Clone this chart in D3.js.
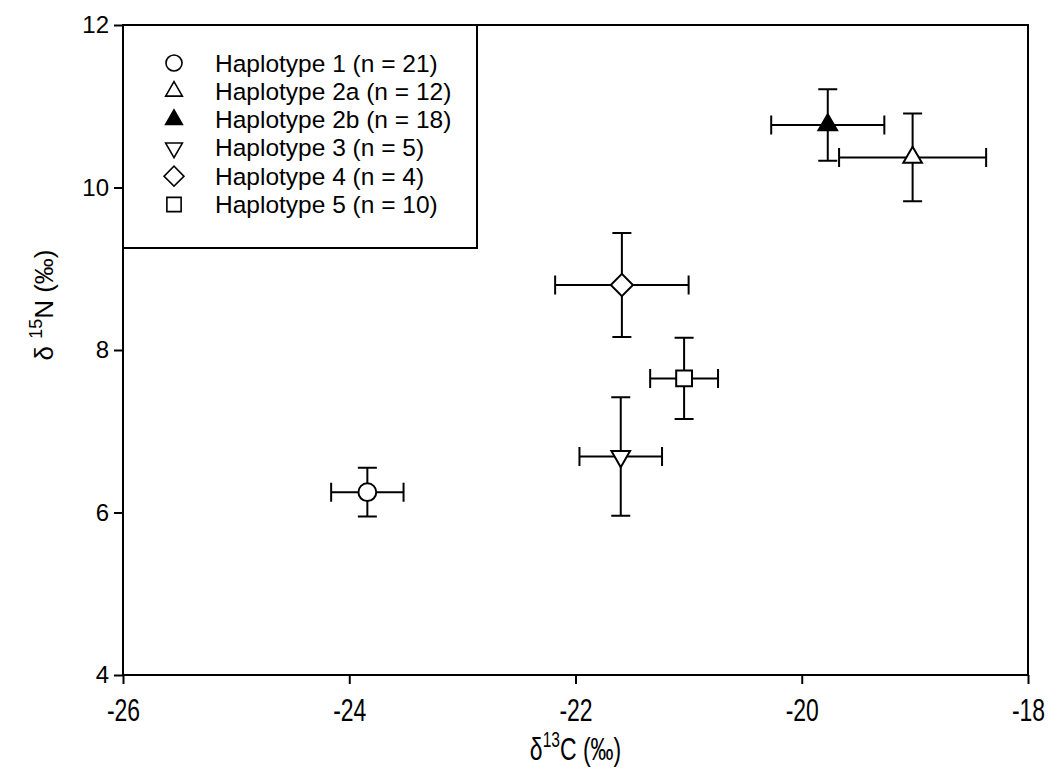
<!DOCTYPE html>
<html lang="en">
<head>
    <meta charset="UTF-8">
    <title>Haplotype isotopes</title>
    <script src="https://d3js.org/d3.v7.min.js"></script>
    <style>
        body { margin: 0; background: #fff; }
        text { font-family: "Liberation Sans", Arial, sans-serif; fill: #000; }
    </style>
</head>
<body>

<svg width="1050" height="780"></svg>

<script>

    // values
    var groups = ["Haplotype 1 (n = 21)", "Haplotype 2a (n = 12)", "Haplotype 2b (n = 18)",
                  "Haplotype 3 (n = 5)", "Haplotype 4 (n = 4)", "Haplotype 5 (n = 10)"];
    var carbon = [-23.84, -19.02, -19.77, -21.60, -21.59, -21.04];
    var carbonErr = [0.32, 0.65, 0.50, 0.365, 0.59, 0.30];
    var nitrogen = [6.25, 10.37, 10.77, 6.69, 8.80, 7.65];
    var nitrogenErr = [0.30, 0.54, 0.44, 0.73, 0.64, 0.50];
    var markers = ["circle", "up", "up", "down", "diamond", "square"];
    var filled = [false, false, true, false, false, false];
    var xTicks = [-26, -24, -22, -20, -18];
    var yTicks = [4, 6, 8, 10, 12];

    var svg = d3.select("svg");
    var mLeft = 123, mRight = 1028, mTop = 25, mBottom = 675;

    var x = d3.scaleLinear().domain([-26, -18]).range([mLeft, mRight]);
    var y = d3.scaleLinear().domain([4, 12]).range([mBottom, mTop]);

    var rows = groups.map(function (g, i) {
        return {name: g, cx: carbon[i], cxe: carbonErr[i], ny: nitrogen[i], nye: nitrogenErr[i],
                marker: markers[i], fill: filled[i]};
    });

    // axes
    var xAxis = svg.append("g")
        .attr("transform", "translate(0," + mBottom + ")")
        .call(d3.axisBottom(x).tickValues(xTicks).tickSize(9).tickSizeOuter(0)
            .tickFormat(function (d) { return String(d); }));
    // condensed look of the reference tick labels
    xAxis.selectAll("text")
        .attr("y", 0).attr("dy", 0)
        .attr("transform", "translate(0,46) scale(0.82,1.12)")
        .style("font-size", "28px");

    var yAxis = svg.append("g")
        .attr("transform", "translate(" + mLeft + ",0)")
        .call(d3.axisLeft(y).tickValues(yTicks).tickSize(9).tickSizeOuter(0).tickPadding(5));
    yAxis.selectAll("text").style("font-size", "24px");

    svg.selectAll(".domain").remove();
    svg.selectAll(".tick line").attr("stroke", "#000").attr("stroke-width", 2);

    // frame
    svg.append("rect")
        .attr("x", mLeft).attr("y", mTop)
        .attr("width", mRight - mLeft).attr("height", mBottom - mTop)
        .attr("fill", "none").attr("stroke", "#000").attr("stroke-width", 2);

    function symbolPath(m, k) {
        k = k || 1;
        if (m === "circle") return d3.symbol(d3.symbolCircle, 250 * k * k)();
        if (m === "square") return d3.symbol(d3.symbolSquare, 250 * k * k)();
        if (m === "diamond") return d3.symbol(d3.symbolSquare, 245 * k * k)();
        return d3.symbol(d3.symbolTriangle, 150 * k * k)();
    }
    function symbolRotate(m) {
        if (m === "down") return 180;
        if (m === "diamond") return 45;
        return 0;
    }

    // error bars
    var cap = 9.5;
    var bars = svg.append("g").attr("stroke", "#000").attr("stroke-width", 2).attr("fill", "none");
    rows.forEach(function (d) {
        var px = x(d.cx), py = y(d.ny);
        var x0 = x(d.cx - d.cxe), x1 = x(d.cx + d.cxe);
        var y0 = y(d.ny - d.nye), y1 = y(d.ny + d.nye);
        bars.append("path").attr("d",
            "M" + x0 + "," + py + "H" + x1 +
            "M" + x0 + "," + (py - cap) + "V" + (py + cap) +
            "M" + x1 + "," + (py - cap) + "V" + (py + cap) +
            "M" + px + "," + y0 + "V" + y1 +
            "M" + (px - cap) + "," + y0 + "H" + (px + cap) +
            "M" + (px - cap) + "," + y1 + "H" + (px + cap));
    });

    // points
    svg.selectAll(".pt")
        .data(rows)
        .enter()
        .append("path")
        .attr("class", "pt")
        .attr("d", function (d) { return symbolPath(d.marker); })
        .attr("transform", function (d) {
            return "translate(" + x(d.cx) + "," + y(d.ny) + ") rotate(" + symbolRotate(d.marker) + ")";
        })
        .attr("fill", function (d) { return d.fill ? "#000" : "#fff"; })
        .attr("stroke", "#000")
        .attr("stroke-width", 2);

    // legend
    var legend = svg.append("g");
    legend.append("rect")
        .attr("x", mLeft).attr("y", mTop)
        .attr("width", 354).attr("height", 223)
        .attr("fill", "#fff").attr("stroke", "#000").attr("stroke-width", 2);

    var item = legend.selectAll(".item")
        .data(rows)
        .enter()
        .append("g")
        .attr("transform", function (d, i) { return "translate(0," + (63 + i * 28.3) + ")"; });

    item.append("path")
        .attr("d", function (d) { return symbolPath(d.marker, 0.9); })
        .attr("transform", function (d) { return "translate(174,0) rotate(" + symbolRotate(d.marker) + ")"; })
        .attr("fill", function (d) { return d.fill ? "#000" : "#fff"; })
        .attr("stroke", "#000")
        .attr("stroke-width", 1.6);

    item.append("text")
        .attr("x", 215)
        .attr("y", 8.5)
        .style("font-size", "24.5px")
        .text(function (d) { return d.name; });

    // axis titles
    var xt = svg.append("text")
        .attr("transform", "translate(" + ((mLeft + mRight) / 2) + ",760) scale(0.82,1.15)")
        .attr("text-anchor", "middle")
        .style("font-size", "28px");
    xt.append("tspan").text("\u03b4");
    xt.append("tspan").attr("dy", -11).style("font-size", "19px").text("13");
    xt.append("tspan").attr("dy", 11).text("C (\u2030)");

    var yt = svg.append("text")
        .attr("transform", "translate(53,305) rotate(-90)")
        .attr("text-anchor", "middle")
        .style("font-size", "26px");
    yt.append("tspan").text("\u03b4 ");
    yt.append("tspan").attr("dy", -11).style("font-size", "18px").text("15");
    yt.append("tspan").attr("dy", 11).text("N (\u2030)");

</script>
</body>
</html>
